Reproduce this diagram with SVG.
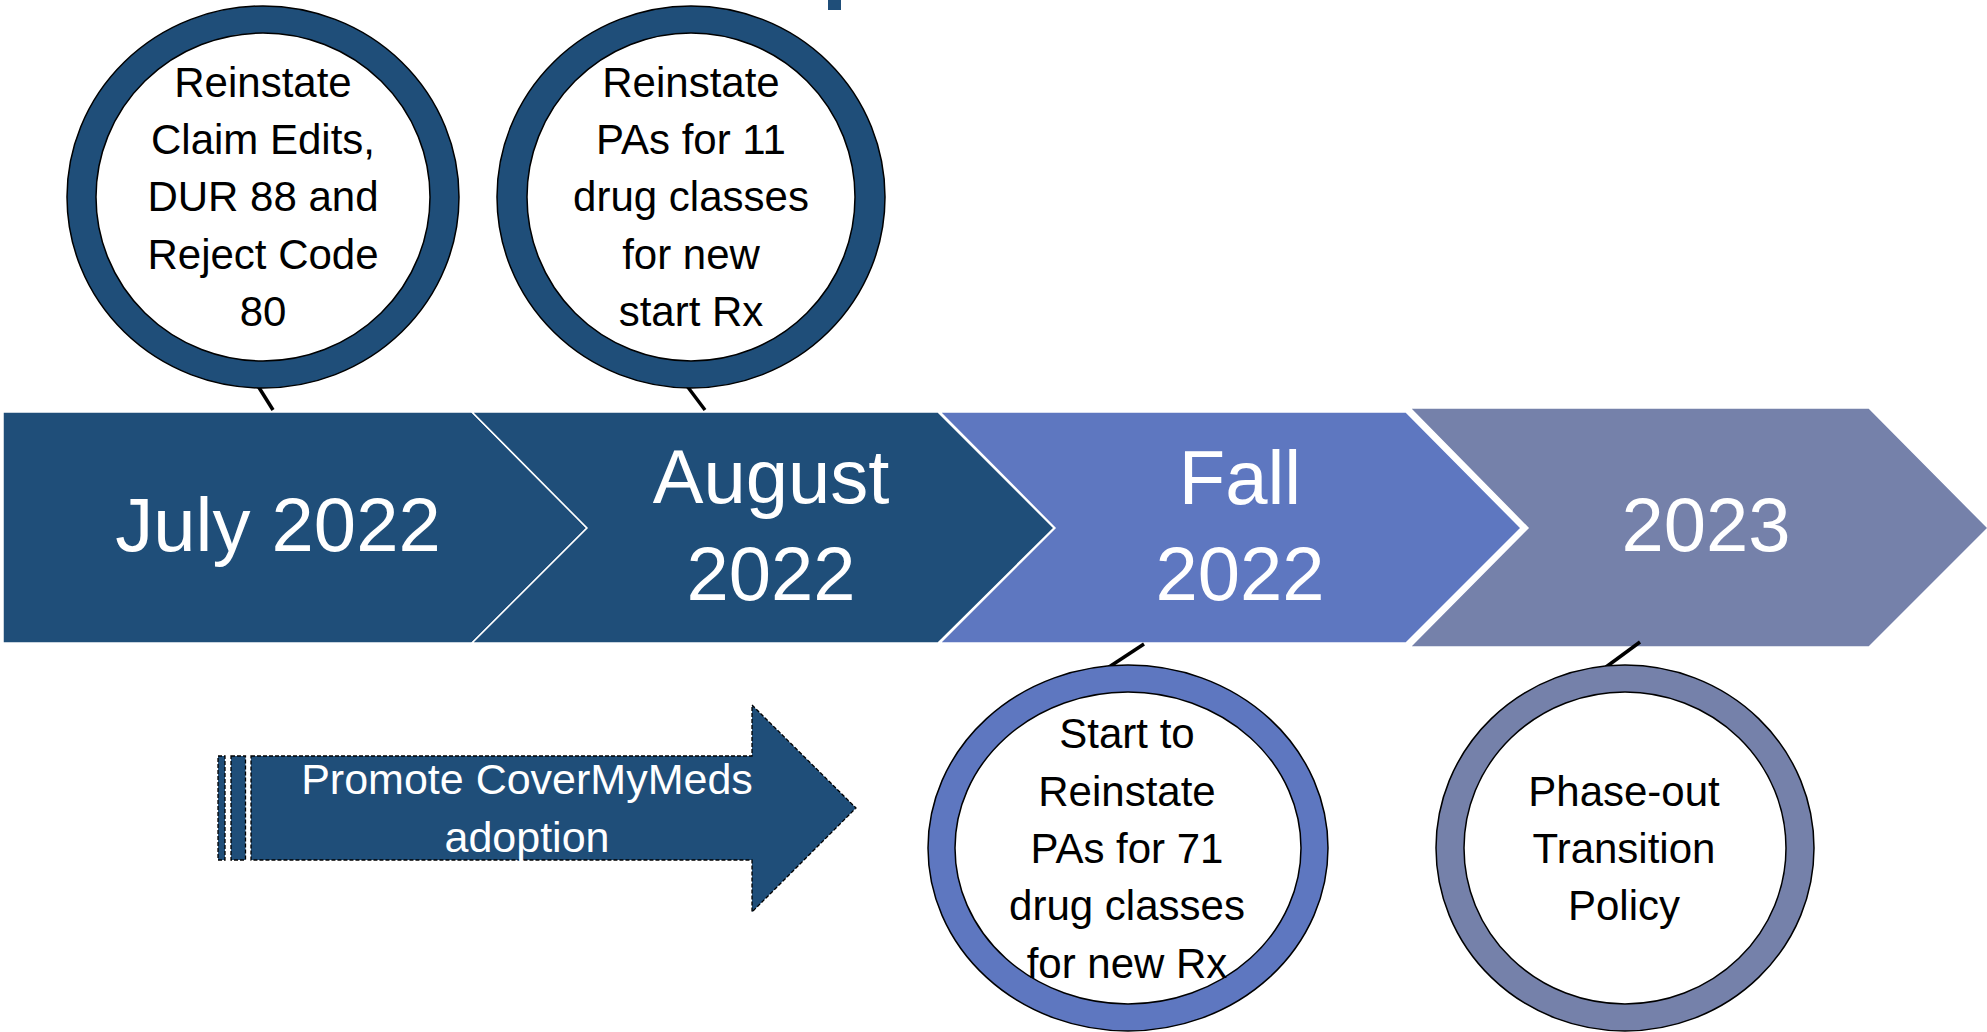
<svg xmlns="http://www.w3.org/2000/svg" width="1987" height="1032" viewBox="0 0 1987 1032">
<style>
.bg{fill:#ffffff}
.chev{stroke:#ffffff;stroke-width:1.5}
.dark{fill:#1F4E79}
.fall{fill:#5E77C0}
.grey{fill:#7581AA}
.ring{stroke:#000000;stroke-width:1.5}
.inner{fill:#ffffff;stroke:#000000;stroke-width:1.5}
.tick{stroke:#000000;stroke-width:3.5;fill:none}
.big{font-family:"Liberation Sans",Arial,sans-serif;font-size:76px;fill:#ffffff;text-anchor:middle}
.lbl{font-family:"Liberation Sans",Arial,sans-serif;font-size:42px;fill:#000000;text-anchor:middle}
.arrtxt{font-family:"Liberation Sans",Arial,sans-serif;font-size:43px;fill:#ffffff;text-anchor:middle}
.dash{stroke:#000000;stroke-width:1.3;stroke-dasharray:4 2}
</style>
<rect class="bg" x="0" y="0" width="1987" height="1032"/>
<rect class="dark" x="828" y="0" width="13" height="10"/>

<g id="chevron-july">
<polygon class="dark chev" points="3,412 472,412 587,528 472,643 3,643"/>
<text class="big" x="278" y="551">July 2022</text>
</g>
<g id="chevron-august">
<polygon class="dark chev" points="472,412 938,412 1054,528 938,643 472,643 587,528"/>
<text class="big" x="771" y="503">August</text>
<text class="big" x="771" y="600">2022</text>
</g>
<g id="chevron-fall">
<polygon class="fall chev" points="940,412 1406,412 1521,528 1406,643 940,643 1055,528"/>
<text class="big" x="1240" y="504">Fall</text>
<text class="big" x="1240" y="600">2022</text>
</g>
<g id="chevron-2023">
<polygon class="grey chev" points="1410,408 1869,408 1988,528 1869,647 1410,647 1528,528"/>
<text class="big" x="1706" y="551">2023</text>
</g>

<g id="connectors">
<line class="tick" x1="258" y1="386" x2="273" y2="410"/>
<line class="tick" x1="687" y1="386" x2="705" y2="410"/>
<line class="tick" x1="1144" y1="644" x2="1109" y2="667"/>
<line class="tick" x1="1640" y1="642" x2="1606" y2="667"/>
</g>

<g id="circle-claim-edits">
<ellipse class="dark ring" cx="263" cy="197" rx="196" ry="191"/>
<ellipse class="inner" cx="263" cy="197" rx="167" ry="164"/>
<text class="lbl" x="263" y="97">Reinstate</text>
<text class="lbl" x="263" y="154">Claim Edits,</text>
<text class="lbl" x="263" y="211">DUR 88 and</text>
<text class="lbl" x="263" y="269">Reject Code</text>
<text class="lbl" x="263" y="326">80</text>
</g>

<g id="circle-pas-11">
<ellipse class="dark ring" cx="691" cy="197" rx="194" ry="191"/>
<ellipse class="inner" cx="691" cy="197" rx="164" ry="164"/>
<text class="lbl" x="691" y="97">Reinstate</text>
<text class="lbl" x="691" y="154">PAs for 11</text>
<text class="lbl" x="691" y="211">drug classes</text>
<text class="lbl" x="691" y="269">for new</text>
<text class="lbl" x="691" y="326">start Rx</text>
</g>

<g id="circle-pas-71">
<ellipse class="fall ring" cx="1128" cy="848" rx="200" ry="183"/>
<ellipse class="inner" cx="1128" cy="848" rx="173" ry="156"/>
<text class="lbl" x="1127" y="748">Start to</text>
<text class="lbl" x="1127" y="806">Reinstate</text>
<text class="lbl" x="1127" y="863">PAs for 71</text>
<text class="lbl" x="1127" y="920">drug classes</text>
<text class="lbl" x="1127" y="978">for new Rx</text>
</g>

<g id="circle-phase-out">
<ellipse class="grey ring" cx="1625" cy="848" rx="189" ry="183"/>
<ellipse class="inner" cx="1625" cy="848" rx="161" ry="156"/>
<text class="lbl" x="1624" y="806">Phase-out</text>
<text class="lbl" x="1624" y="863">Transition</text>
<text class="lbl" x="1624" y="920">Policy</text>
</g>

<g id="arrow-covermymeds">
<rect class="dark dash" x="218" y="756" width="7" height="104"/>
<rect class="dark dash" x="231" y="756" width="14.5" height="104"/>
<polygon class="dark dash" points="251,756 752,756 752,705 856,808 752,912 752,860 251,860"/>
<text class="arrtxt" x="527" y="794">Promote CoverMyMeds</text>
<text class="arrtxt" x="527" y="852">adoption</text>
</g>
</svg>
